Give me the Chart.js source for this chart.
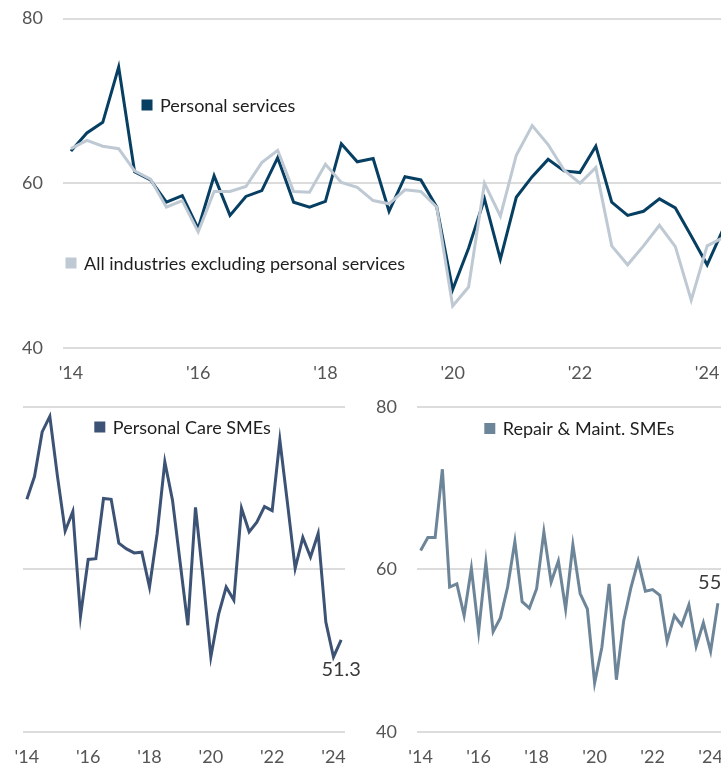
<!DOCTYPE html>
<html>
<head>
<meta charset="utf-8">
<script src="https://cdn.jsdelivr.net/npm/chart.js@4.4.1/dist/chart.umd.min.js"></script>
<style>
  html, body { margin: 0; padding: 0; background: #fff; }
  #wrap { position: relative; width: 721px; height: 770px; overflow: hidden; }
  canvas { position: absolute; }
</style>
</head>
<body>
<div id="wrap">
  <canvas id="topChart" width="740" height="390" style="left:0px;top:0px"></canvas>
  <canvas id="careChart" width="360" height="380" style="left:0px;top:390px"></canvas>
  <canvas id="repairChart" width="380" height="380" style="left:360px;top:390px"></canvas>
</div>
<script>
// quarterly categories, 2014 Q1 - 2024 Q2
const quarters = [
  "2014Q1","2014Q2","2014Q3","2014Q4","2015Q1","2015Q2","2015Q3","2015Q4",
  "2016Q1","2016Q2","2016Q3","2016Q4","2017Q1","2017Q2","2017Q3","2017Q4",
  "2018Q1","2018Q2","2018Q3","2018Q4","2019Q1","2019Q2","2019Q3","2019Q4",
  "2020Q1","2020Q2","2020Q3","2020Q4","2021Q1","2021Q2","2021Q3","2021Q4",
  "2022Q1","2022Q2","2022Q3","2022Q4","2023Q1","2023Q2","2023Q3","2023Q4",
  "2024Q1","2024Q2"
];
const tickQuarters = ["2014Q1","2016Q1","2018Q1","2020Q1","2022Q1","2024Q1"];
const tickLabels = ["'14","'16","'18","'20","'22","'24"];

const personalServices = [63.9, 66.1, 67.4, 74.1, 61.4, 60.4, 57.7, 58.5, 54.5, 60.9, 56.1, 58.4,
  59.1, 63.1, 57.7, 57.1, 57.8, 64.8, 62.6, 63.0, 56.6, 60.8, 60.4, 57.1, 47.1, 52.1, 58.1, 50.8,
  58.3, 60.8, 62.9, 61.5, 61.3, 64.5, 57.7, 56.1, 56.6, 58.1, 57.0, 53.6, 50.1, 54.4];
const allIndustries = [64.2, 65.2, 64.5, 64.2, 61.5, 60.5, 57.1, 57.9, 54.1, 59.0, 59.0, 59.6,
  62.5, 64.0, 59.0, 58.9, 62.3, 60.1, 59.5, 57.9, 57.5, 59.2, 59.0, 57.1, 45.1, 47.4, 60.0, 56.0,
  63.4, 67.0, 64.7, 61.6, 60.0, 61.9, 52.4, 50.1, 52.4, 54.9, 52.3, 45.8, 52.4, 53.4];
const personalCare = [68.6, 71.4, 76.9, 78.8, 71.4, 64.7, 67.1, 54.2, 61.2, 61.3, 68.7, 68.6,
  63.2, 62.5, 62.0, 62.1, 57.8, 64.4, 73.2, 68.5, 60.8, 53.1, 67.6, 58.8, 49.2, 54.4, 57.8, 56.2,
  67.5, 64.6, 65.8, 67.7, 67.2, 75.9, 68.1, 60.1, 63.9, 61.5, 64.4, 53.5, 49.2, 51.3];
const repairMaint = [62.3, 63.9, 63.9, 72.3, 57.8, 58.2, 54.3, 60.1, 52.3, 60.8, 52.3, 54.0,
  57.8, 63.4, 56.0, 55.2, 57.6, 64.6, 58.4, 61.0, 55.1, 63.0, 57.0, 55.1, 46.0, 50.4, 58.2, 46.4,
  53.6, 57.7, 61.0, 57.3, 57.5, 56.8, 51.1, 54.3, 53.1, 55.6, 50.5, 53.4, 49.9, 55.8];

const FONT = 'Lato, "Noto Sans", sans-serif';

// legend squares + text drawn inside the plot
const inlineLegend = {
  id: 'inlineLegend',
  afterDraw(chart, args, opts) {
    const ctx = chart.ctx;
    ctx.save();
    ctx.font = '18px ' + FONT;
    ctx.textBaseline = 'middle';
    ctx.textAlign = 'left';
    (opts.items || []).forEach(function(it) {
      ctx.fillStyle = chart.data.datasets[it.ds].borderColor;
      ctx.fillRect(it.x, it.y - 5.5, 11, 11);
      ctx.fillStyle = '#1e1e1e';
      ctx.fillText(chart.data.datasets[it.ds].label, it.x + 18.5, it.y + 1);
    });
    ctx.restore();
  }
};

// value label at the last point
const lastLabel = {
  id: 'lastLabel',
  afterDatasetsDraw(chart, args, opts) {
    if (!opts.show) return;
    const meta = chart.getDatasetMeta(0);
    const data = chart.data.datasets[0].data;
    const pt = meta.data[data.length - 1];
    const ctx = chart.ctx;
    ctx.save();
    ctx.font = '20px ' + FONT;
    ctx.fillStyle = '#3a3a3a';
    ctx.textAlign = 'center';
    ctx.textBaseline = 'middle';
    ctx.fillText(data[data.length - 1].toFixed(1), pt.x, pt.y + opts.dy);
    ctx.restore();
  }
};

function xTick(value) {
  const q = this.getLabelForValue(value);
  const k = tickQuarters.indexOf(q);
  return k >= 0 ? tickLabels[k] : '';
}

function makeChart(id, datasets, o) {
  return new Chart(document.getElementById(id), {
    type: 'line',
    data: { labels: quarters, datasets: datasets },
    options: {
      responsive: false,
      animation: false,
      devicePixelRatio: 1,
      layout: { padding: { top: o.padTop, right: o.padRight, left: 0, bottom: 0 } },
      elements: { point: { radius: 0 }, line: { tension: 0, borderWidth: 3 } },
      plugins: {
        legend: { display: false },
        tooltip: { enabled: false },
        inlineLegend: { items: o.legend },
        lastLabel: { show: o.labelDy !== undefined, dy: o.labelDy }
      },
      scales: {
        x: {
          offset: true,
          grid: { display: false, drawTicks: false },
          border: { display: false },
          ticks: { autoSkip: false, maxRotation: 0, minRotation: 0, padding: o.xPad,
                   color: '#555', font: { family: FONT, size: 18 }, callback: xTick },
          afterFit: function(s) {
            s.height = o.xHeight;
            s.paddingLeft = 0; s.paddingRight = 0;
          }
        },
        y: {
          min: 40, max: 80,
          grid: { color: '#dcdcdc', lineWidth: 2, drawTicks: false },
          border: { display: false },
          ticks: { display: o.yTicks, stepSize: 20, padding: 20,
                   color: '#555', font: { family: FONT, size: 18 } },
          afterFit: function(s) {
            s.width = o.yWidth;
            s.paddingTop = 0; s.paddingBottom = 0;
          }
        }
      }
    },
    plugins: [inlineLegend, lastLabel]
  });
}

makeChart('topChart', [
  { label: 'Personal services', data: personalServices, borderColor: '#073f63', order: 1 },
  { label: 'All industries excluding personal services', data: allIndustries, borderColor: '#bec9d3', order: 0 }
], {
  padTop: 18.5, padRight: 9, xHeight: 42, xPad: 14, yWidth: 63, yTicks: true,
  legend: [ { ds: 0, x: 141.5, y: 105 }, { ds: 1, x: 65.5, y: 263 } ]
});

makeChart('careChart', [
  { label: 'Personal Care SMEs', data: personalCare, borderColor: '#3d5375' }
], {
  padTop: 16.7, padRight: 15, xHeight: 38.3, xPad: 15, yWidth: 23, yTicks: false,
  legend: [ { ds: 0, x: 94.3, y: 37 } ], labelDy: 30
});

makeChart('repairChart', [
  { label: 'Repair & Maint. SMEs', data: repairMaint, borderColor: '#6d8599' }
], {
  padTop: 16.7, padRight: 18.5, xHeight: 38.3, xPad: 15, yWidth: 57, yTicks: true,
  legend: [ { ds: 0, x: 124.3, y: 38.5 } ], labelDy: -21
});
</script>
</body>
</html>
